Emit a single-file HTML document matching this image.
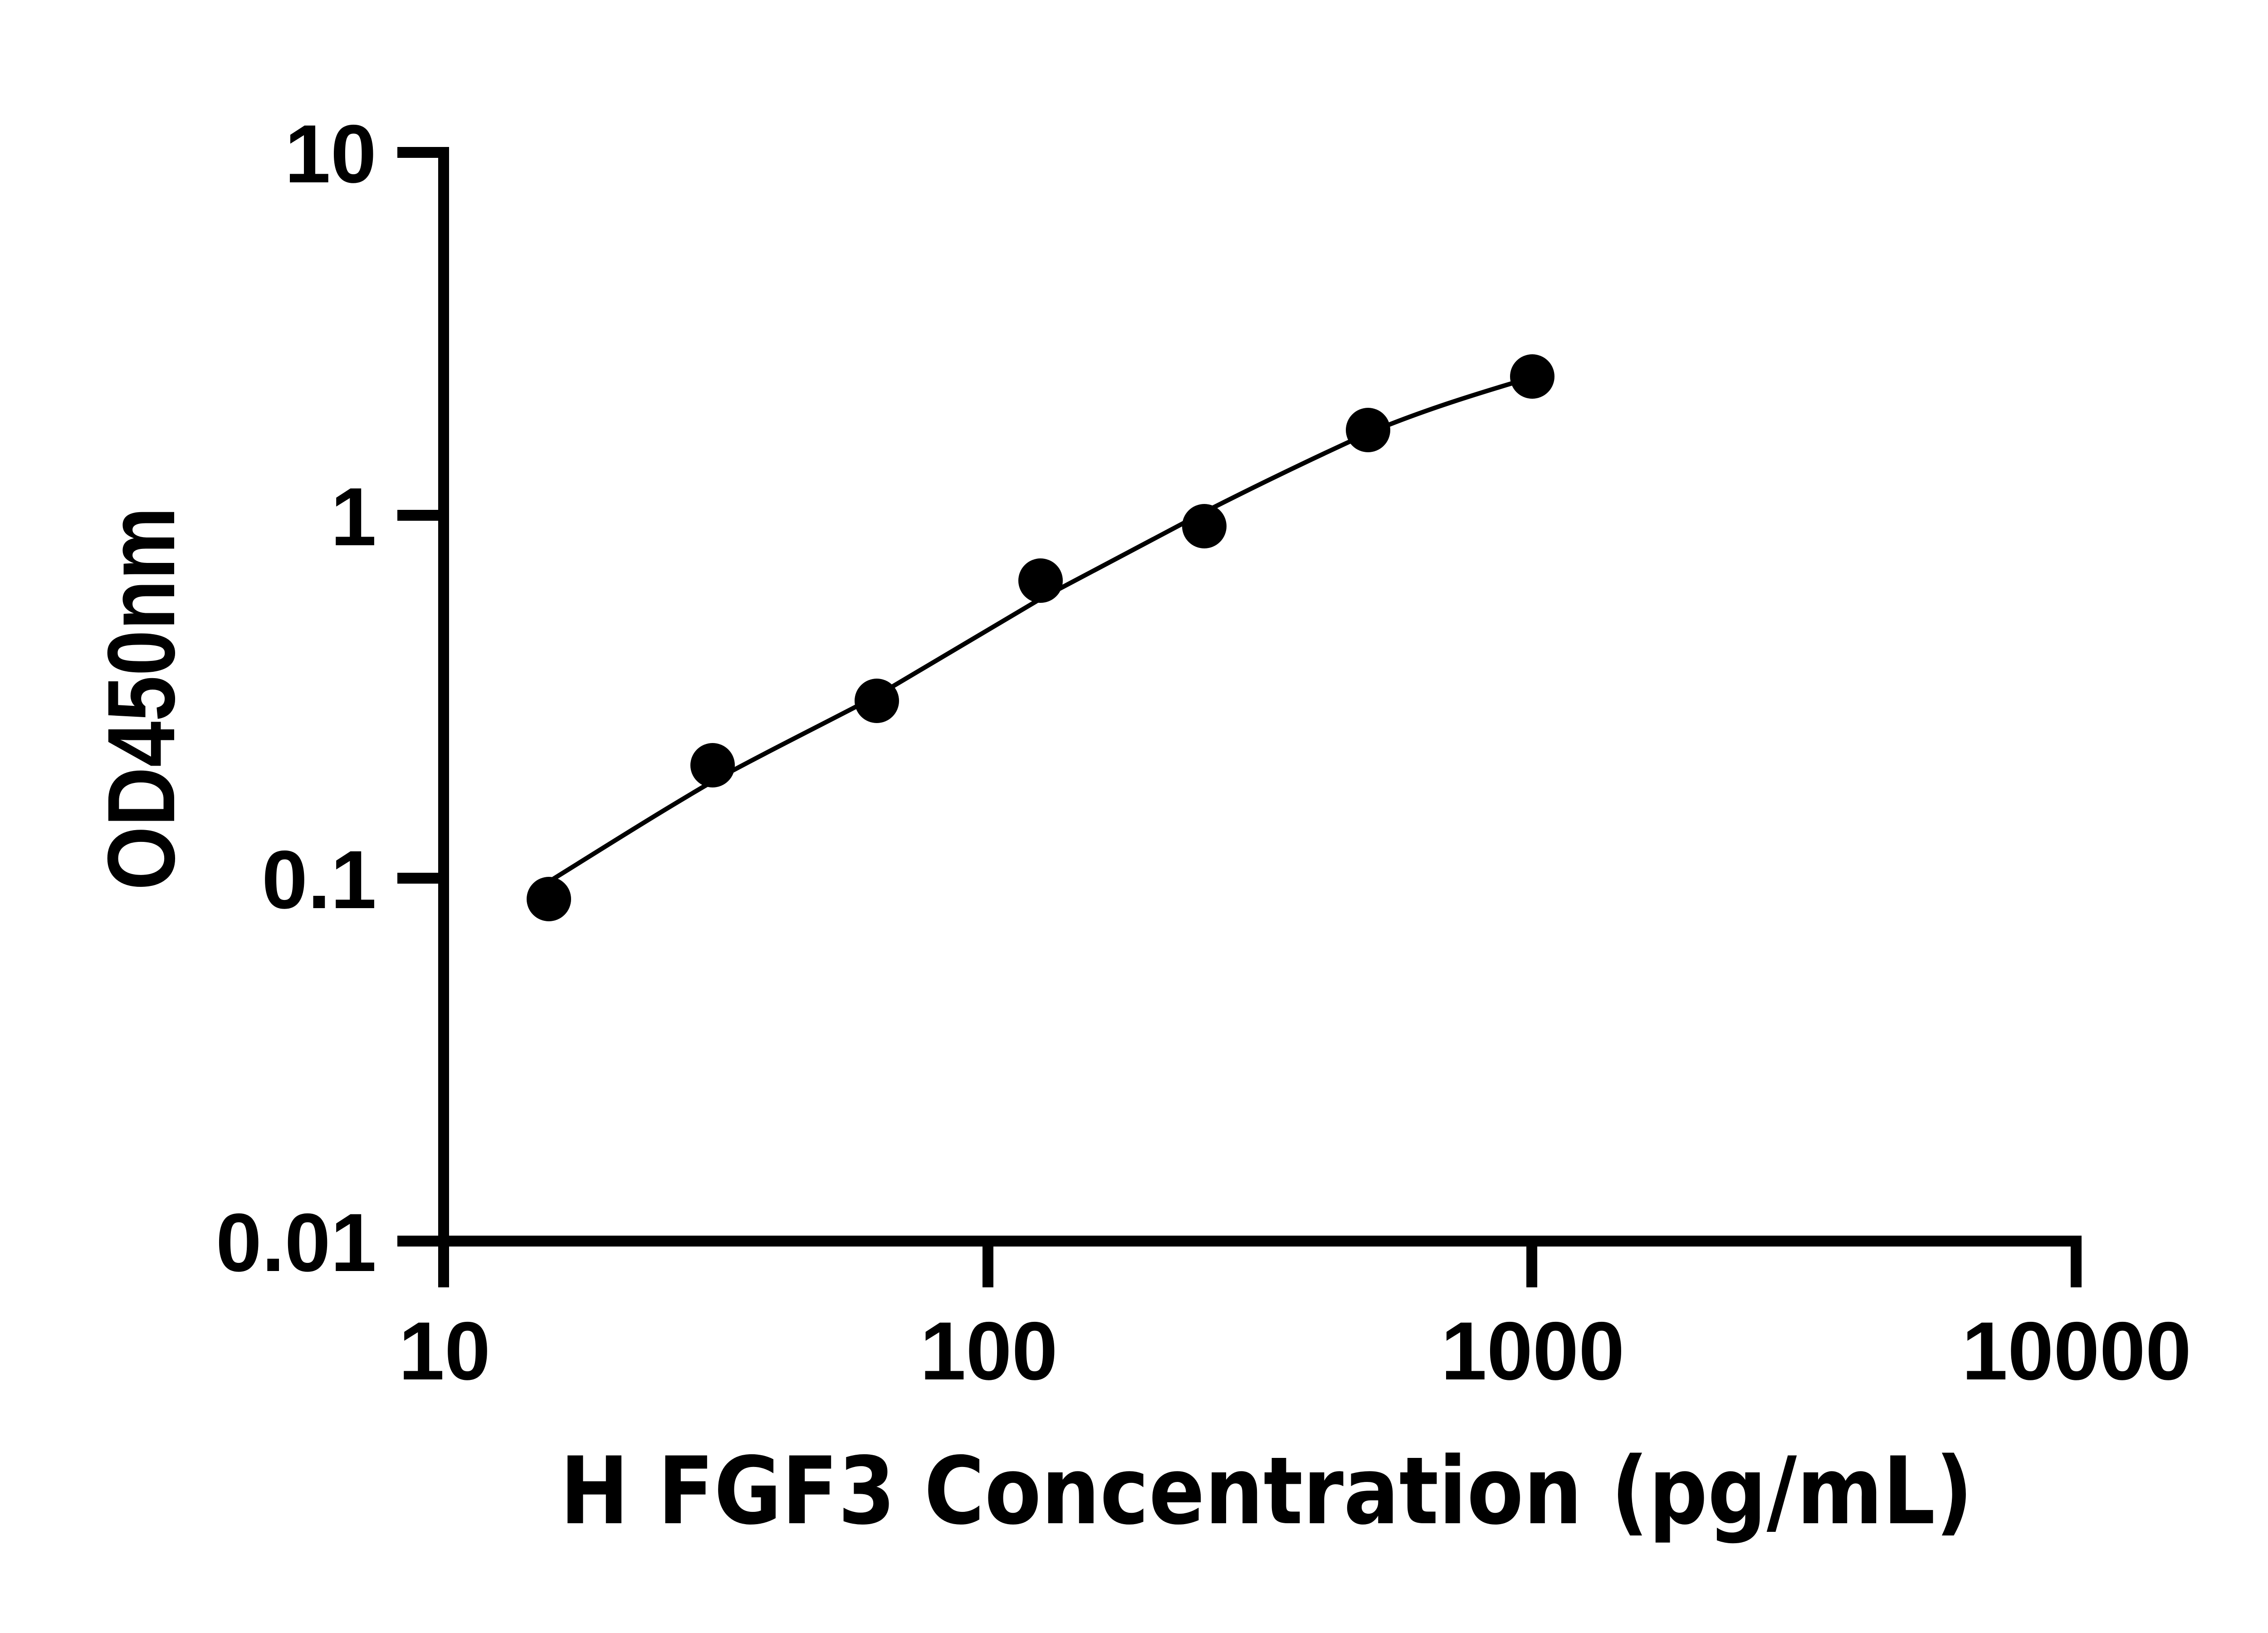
<!DOCTYPE html>
<html><head><meta charset="utf-8"><style>html,body{margin:0;padding:0;background:#fff}svg{display:block}</style></head>
<body>
<svg width="5130" height="3600" viewBox="0 0 5130 3600" xmlns="http://www.w3.org/2000/svg">
<rect width="5130" height="3600" fill="#fff"/>
<g stroke="#000" stroke-width="24" fill="none" stroke-linecap="butt">
<line x1="978" y1="324" x2="978" y2="2838"/>
<line x1="876" y1="2736" x2="4589" y2="2736"/>
<line x1="876" y1="336" x2="990" y2="336"/>
<line x1="876" y1="1136" x2="978" y2="1136"/>
<line x1="876" y1="1936" x2="978" y2="1936"/>
<line x1="2178" y1="2736" x2="2178" y2="2838"/>
<line x1="3377" y1="2736" x2="3377" y2="2838"/>
<line x1="4577" y1="2724" x2="4577" y2="2838"/>
</g>
<g font-family="Liberation Sans, Arial, sans-serif" font-weight="bold" font-size="182" fill="#000">
<text x="830" y="402" text-anchor="end">10</text>
<text x="830" y="1202" text-anchor="end">1</text>
<text x="830" y="2002" text-anchor="end">0.1</text>
<text x="830" y="2802" text-anchor="end">0.01</text>
<text x="980" y="3041" text-anchor="middle">10</text>
<text x="2180" y="3041" text-anchor="middle">100</text>
<text x="3379" y="3041" text-anchor="middle">1000</text>
<text x="4578" y="3041" text-anchor="middle">10000</text>
</g>
<text x="2792" y="3358" text-anchor="middle" font-family="DejaVu Sans, sans-serif" font-weight="bold" font-size="205" textLength="3115" lengthAdjust="spacingAndGlyphs">H FGF3 Concentration (pg/mL)</text>
<text transform="translate(384,1540) rotate(-90)" text-anchor="middle" font-family="Liberation Sans, Arial, sans-serif" font-weight="bold" font-size="211" textLength="845" lengthAdjust="spacingAndGlyphs">OD450nm</text>
<path d="M1216,1940 C1335,1866 1455,1790 1572,1722 C1695,1655 1815,1596 1933,1534 C2055,1462 2175,1390 2294,1320 C2415,1255 2535,1192 2655,1129 C2775,1068 2895,1010 3016,955 C3135,905 3255,868 3377,832" stroke="#000" stroke-width="10" fill="none"/>
<g fill="#000">
<circle cx="1210" cy="1982" r="49"/>
<circle cx="1571" cy="1687" r="49"/>
<circle cx="1933" cy="1545" r="49"/>
<circle cx="2294" cy="1280" r="49"/>
<circle cx="2655" cy="1160" r="49"/>
<circle cx="3016" cy="948" r="49"/>
<circle cx="3378" cy="830" r="49"/>
</g>
</svg>
</body></html>
